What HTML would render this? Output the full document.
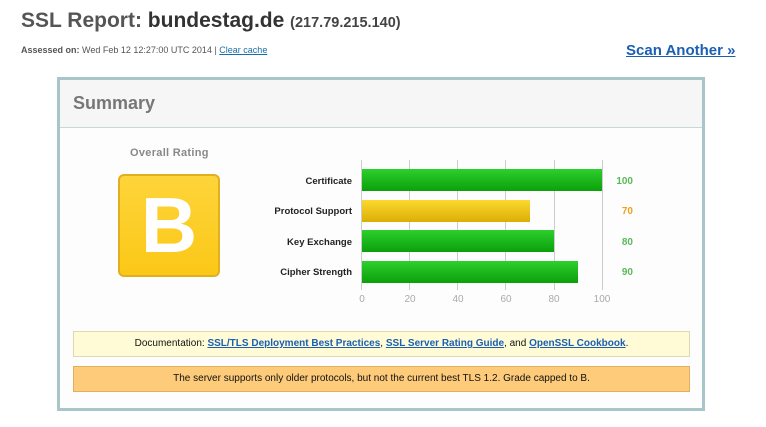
<!DOCTYPE html>
<html><head><meta charset="utf-8">
<style>
*{margin:0;padding:0;box-sizing:border-box}
body{width:766px;height:427px;background:#fff;font-family:"Liberation Sans",Arial,sans-serif;position:relative;overflow:hidden}
.a{position:absolute}
</style></head><body>
<div class="a" style="left:21px;top:9px;font-size:21px;font-weight:bold;color:#555;white-space:nowrap">SSL Report: <span style="color:#333">bundestag.de</span> <span style="font-size:14.5px;color:#444">(217.79.215.140)</span></div>
<div class="a" style="left:21px;top:45px;font-size:9px;color:#555;white-space:nowrap"><b>Assessed on:</b> Wed Feb 12 12:27:00 UTC 2014 | <span style="color:#1a6fa8;text-decoration:underline">Clear cache</span></div>
<div class="a" style="left:626px;top:42px;font-size:15px;font-weight:bold;color:#1a5fb4;text-decoration:underline;white-space:nowrap">Scan Another »</div>

<div class="a" style="left:57px;top:77px;width:648px;height:334px;border:3px solid #a8c6c9;background:#fdfdfd"></div>
<div class="a" style="left:60px;top:80px;width:642px;height:48px;background:#f6f6f6;border-bottom:1px solid #c8d8da"></div>
<div class="a" style="left:73px;top:93px;font-size:18px;font-weight:bold;color:#777">Summary</div>
<div class="a" style="left:130px;top:147px;font-size:11px;font-weight:bold;color:#888;letter-spacing:0.3px">Overall Rating</div>
<div class="a" style="left:118px;top:174px;width:102px;height:103px;border:2px solid #e0b020;border-radius:6px;background:linear-gradient(#fdd43a,#fcc817);color:#fff;font-size:78px;font-weight:bold;text-align:center;line-height:99px">B</div>

<svg class="a" style="left:0;top:0" width="766" height="427">
<g stroke="#ccc" stroke-width="1">
<line x1="361.5" y1="160" x2="361.5" y2="290"/><line x1="409.5" y1="160" x2="409.5" y2="290"/>
<line x1="457.5" y1="160" x2="457.5" y2="290"/><line x1="505.5" y1="160" x2="505.5" y2="290"/>
<line x1="554.5" y1="160" x2="554.5" y2="290"/><line x1="602.5" y1="160" x2="602.5" y2="290"/>
</g>
<defs>
<linearGradient id="g" x1="0" y1="0" x2="0" y2="1"><stop offset="0" stop-color="#2dcf2d"/><stop offset="1" stop-color="#0ba00b"/></linearGradient>
<linearGradient id="y" x1="0" y1="0" x2="0" y2="1"><stop offset="0" stop-color="#fbd930"/><stop offset="1" stop-color="#dcae05"/></linearGradient>
</defs>
<rect x="362" y="169" width="240" height="22" fill="url(#g)"/>
<rect x="362" y="200" width="168" height="22" fill="url(#y)"/>
<rect x="362" y="230" width="192" height="22" fill="url(#g)"/>
<rect x="362" y="261" width="216" height="22" fill="url(#g)"/>
<g font-size="9.5" font-weight="bold" fill="#222" text-anchor="end" font-family="Liberation Sans">
<text x="352" y="184">Certificate</text><text x="352" y="214">Protocol Support</text>
<text x="352" y="245">Key Exchange</text><text x="352" y="275">Cipher Strength</text>
</g>
<g font-size="10" font-weight="bold" text-anchor="end" font-family="Liberation Sans">
<text x="633" y="184" fill="#5cb85c">100</text><text x="633" y="214" fill="#f0a020">70</text>
<text x="633" y="245" fill="#5cb85c">80</text><text x="633" y="275" fill="#5cb85c">90</text>
</g>
<g font-size="10" fill="#aaa" text-anchor="middle" font-family="Liberation Sans">
<text x="362" y="302">0</text><text x="410" y="302">20</text><text x="458" y="302">40</text>
<text x="506" y="302">60</text><text x="554" y="302">80</text><text x="602" y="302">100</text>
</g>
</svg>

<div class="a" style="left:73px;top:331px;width:617px;height:26px;background:#fffbd6;border:1px solid #ddd8b0;font-size:10px;text-align:center;line-height:24px;color:#111;white-space:nowrap">Documentation: <span style="color:#1a5fb4;text-decoration:underline;font-weight:bold">SSL/TLS Deployment Best Practices</span>, <span style="color:#1a5fb4;text-decoration:underline;font-weight:bold">SSL Server Rating Guide</span>, and <span style="color:#1a5fb4;text-decoration:underline;font-weight:bold">OpenSSL Cookbook</span>.</div>
<div class="a" style="left:73px;top:366px;width:617px;height:26px;background:#fdcb7a;border:1px solid #e0b060;font-size:10px;text-align:center;line-height:24px;color:#111;white-space:nowrap">The server supports only older protocols, but not the current best TLS 1.2. Grade capped to B.</div>
</body></html>
